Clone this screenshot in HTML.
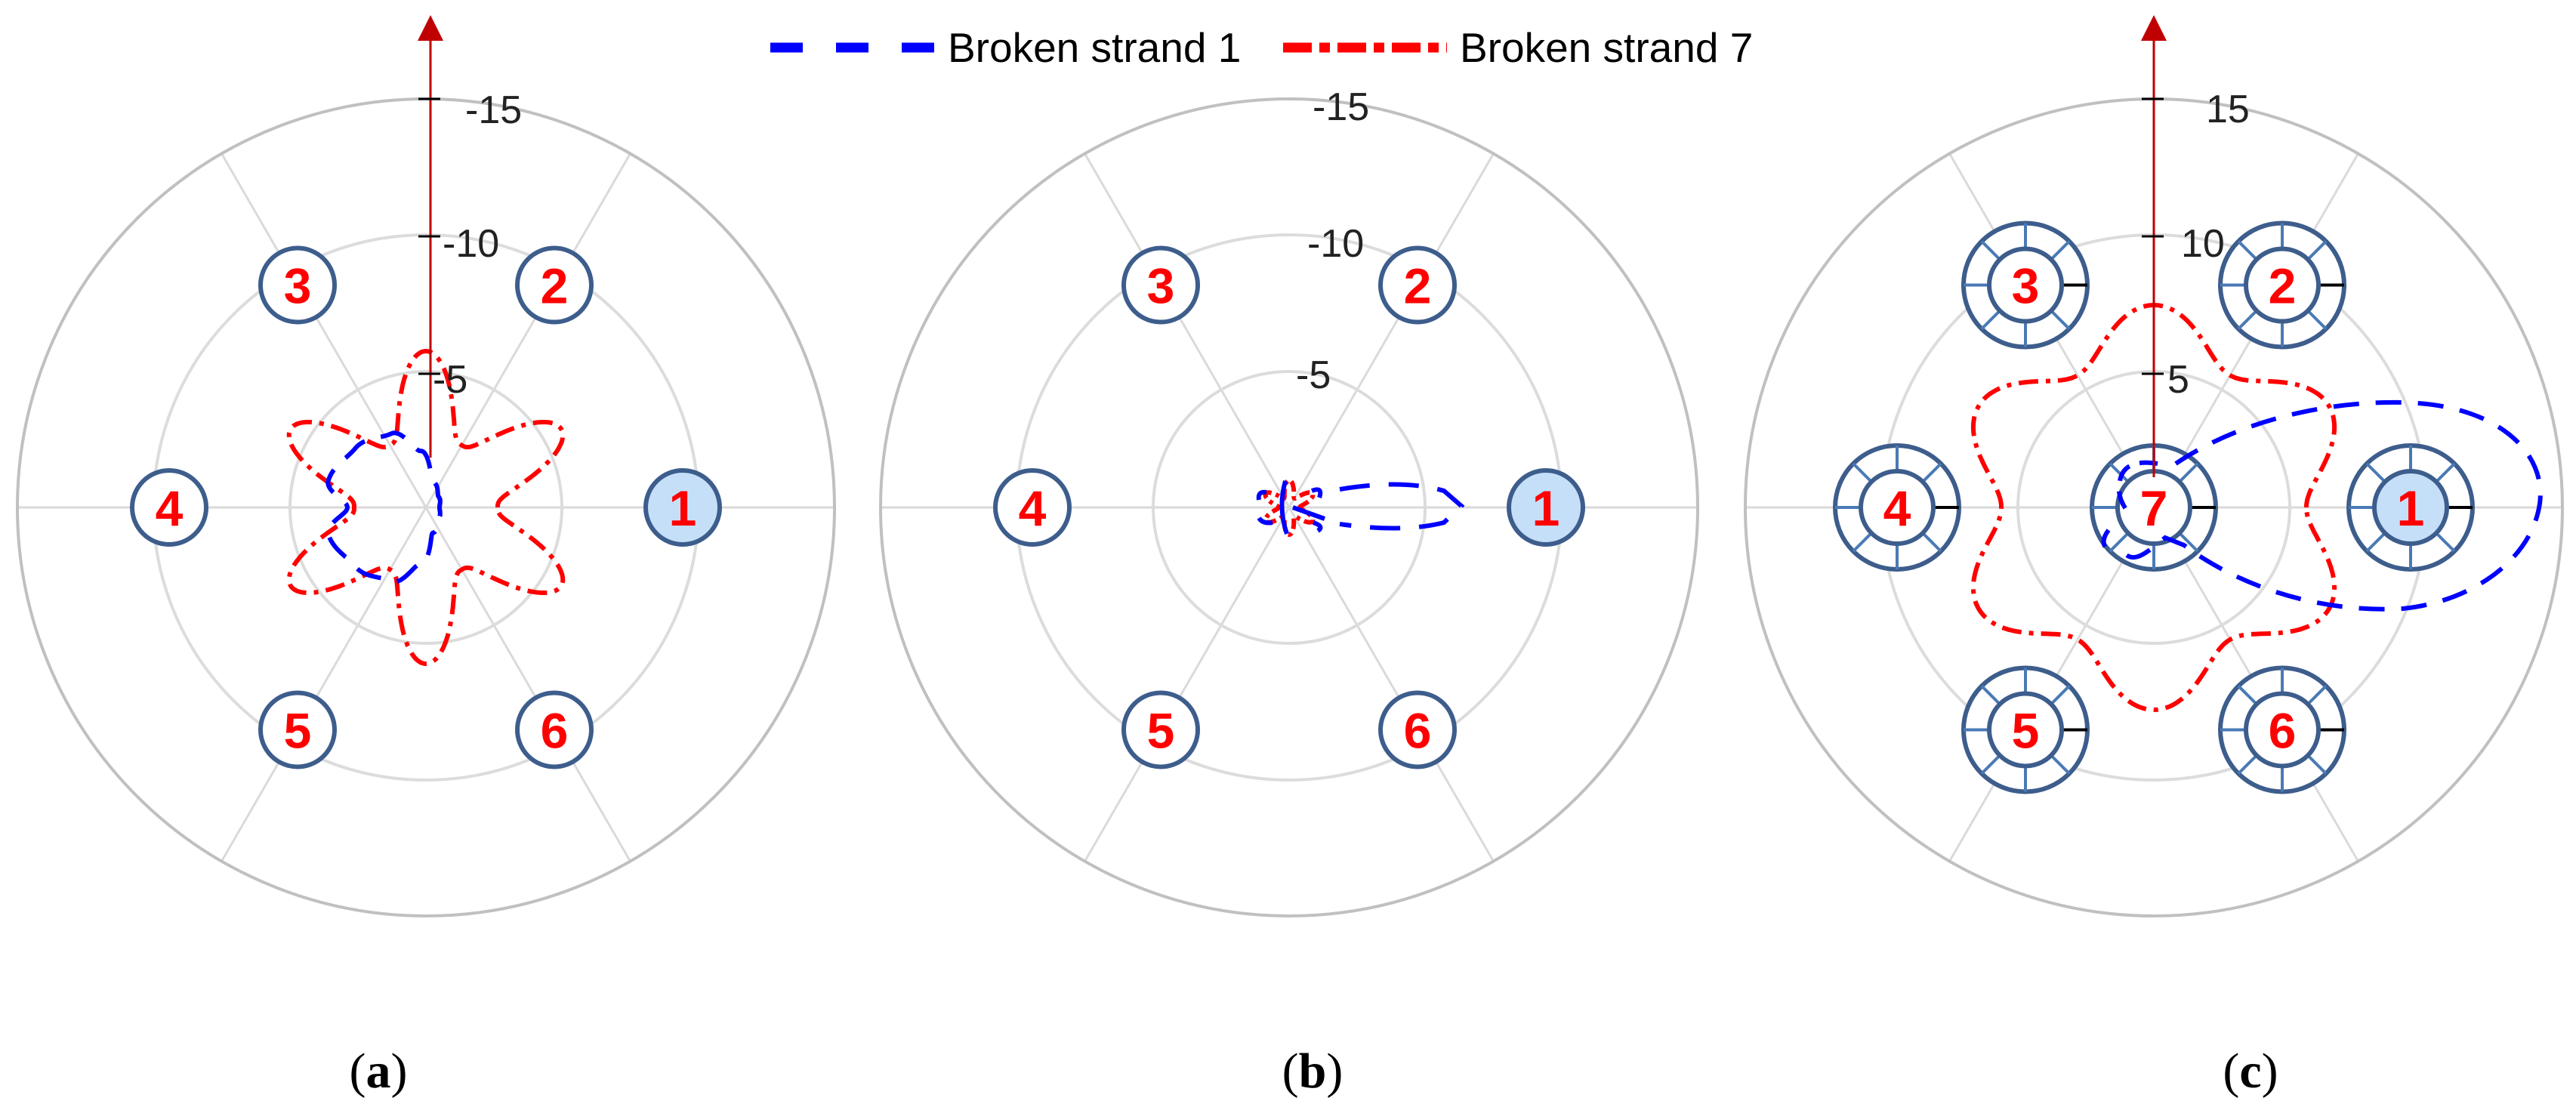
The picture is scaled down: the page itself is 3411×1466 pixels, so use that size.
<!DOCTYPE html>
<html><head><meta charset="utf-8"><style>
html,body{margin:0;padding:0;background:#fff}
svg{display:block}
text{font-family:"Liberation Sans",Arial,sans-serif}
text.serif{font-family:"Liberation Serif",serif}
</style></head><body>
<svg id="s" width="3411" height="1466" viewBox="0 0 3411 1466" xmlns="http://www.w3.org/2000/svg">
<rect width="3411" height="1466" fill="#fff"/>
<!-- legend -->
<line x1="1020" y1="63" x2="1240" y2="63" stroke="#0000ff" stroke-width="13" stroke-dasharray="43,44"/>
<text x="1255" y="82" font-size="55" fill="#000">Broken strand 1</text>
<line x1="1699" y1="63" x2="1916" y2="63" stroke="#ff0000" stroke-width="13" stroke-dasharray="38,10,14,10"/>
<text x="1933" y="82" font-size="55" fill="#000">Broken strand 7</text>
<g id="g"></g>
<text class="serif" x="501" y="1440" font-size="66" text-anchor="middle" style="font-family:'Liberation Serif',serif">(<tspan font-weight="bold">a</tspan>)</text>
<text class="serif" x="1738" y="1440" font-size="66" text-anchor="middle" style="font-family:'Liberation Serif',serif">(<tspan font-weight="bold">b</tspan>)</text>
<text class="serif" x="2980" y="1440" font-size="66" text-anchor="middle" style="font-family:'Liberation Serif',serif">(<tspan font-weight="bold">c</tspan>)</text>
</svg>
<script>
var g=document.getElementById('g');var h='';
var CY=672;
var centers=[564,1707,2852];
function polar(cx,f,n){var p='';for(var i=0;i<=n;i++){var t=i/n*2*Math.PI;var r=f(t);var x=cx+r*Math.cos(t),y=CY-r*Math.sin(t);p+=(i?'L':'M')+x.toFixed(1)+','+y.toFixed(1);}return p+'Z';}
function interp(tab,deg){for(var i=0;i<tab.length-1;i++){if(deg>=tab[i][0]&&deg<=tab[i+1][0]){var a=tab[i],b=tab[i+1];var u=(deg-a[0])/(b[0]-a[0]);u=(1-Math.cos(u*Math.PI))/2;return a[1]+(b[1]-a[1])*u;}}return tab[tab.length-1][1];}
centers.forEach(function(cx,k){
 [60,120,240,300].forEach(function(a){var t=a*Math.PI/180;h+='<line x1="'+cx+'" y1="'+CY+'" x2="'+(cx+541*Math.cos(t))+'" y2="'+(CY-541*Math.sin(t))+'" stroke="#dadada" stroke-width="3"/>';});
 h+='<line x1="'+(cx-541)+'" y1="'+CY+'" x2="'+(cx+541)+'" y2="'+CY+'" stroke="#dadada" stroke-width="3"/>';
 h+='<circle cx="'+cx+'" cy="'+CY+'" r="180" fill="none" stroke="#dcdcdc" stroke-width="4"/>';
 h+='<circle cx="'+cx+'" cy="'+CY+'" r="361" fill="none" stroke="#dcdcdc" stroke-width="4"/>';
 h+='<circle cx="'+cx+'" cy="'+CY+'" r="541" fill="none" stroke="#c0c0c0" stroke-width="4"/>';
});
var cx=centers[0];
h+='<path d="'+polar(cx,function(t){return 95+112*Math.pow((1-Math.cos(6*t))/2,1.4);},720)+'" fill="none" stroke="#ff0000" stroke-width="6" stroke-dasharray="26,10,6,10"/>';
var tabA=[[0,18],[40,22],[75,35],[95,75],[115,108],[140,122],[165,134],[180,104],[195,134],[220,122],[245,108],[265,75],[285,35],[320,22],[360,18]];
h+='<path d="'+polar(cx,function(t){return interp(tabA,t*180/Math.PI);},720)+'" fill="none" stroke="#0000ff" stroke-width="6" stroke-dasharray="34,22"/>';
cx=centers[1];
h+='<path d="'+polar(cx,function(t){return 14+22*Math.pow((1-Math.cos(6*t))/2,1.2);},360)+'" fill="none" stroke="#ff0000" stroke-width="6" stroke-dasharray="14,6,5,6"/>';
h+='<path d="M'+(cx+67)+','+(CY-24)+' Q'+(cx+150)+','+(CY-38)+' '+(cx+205)+','+(CY-22)+' L'+(cx+228)+','+(CY-2)+' L'+(cx+205)+','+(CY+20)+' Q'+(cx+150)+','+(CY+34)+' '+(cx+67)+','+(CY+22)+'" fill="none" stroke="#0000ff" stroke-width="6" stroke-dasharray="40,25"/>';
h+='<path d="M'+(cx-5)+','+(CY-35)+' Q'+(cx-15)+','+CY+' '+(cx-3)+','+(CY+35)+' M'+(cx+5)+','+CY+' L'+(cx+47)+','+(CY+15)+' M'+(cx-30)+','+(CY-20)+' Q'+(cx-42)+','+(CY-22)+' '+(cx-40)+','+(CY-10)+' M'+(cx-40)+','+(CY+14)+' Q'+(cx-35)+','+(CY+22)+' '+(cx-22)+','+(CY+20)+' M'+(cx+30)+','+(CY-22)+' Q'+(cx+45)+','+(CY-28)+' '+(cx+40)+','+(CY-13)+' M'+(cx+32)+','+(CY+20)+' Q'+(cx+47)+','+(CY+25)+' '+(cx+38)+','+(CY+31)+'" fill="none" stroke="#0000ff" stroke-width="6"/>';
var nums=[1,2,3,4,5,6];
function strands(cx,fancy){
 var list=[];for(var i=0;i<6;i++){var t=i*Math.PI/3;list.push([cx+340*Math.cos(t),CY-340*Math.sin(t),nums[i]]);}
 if(fancy)list.push([cx,CY,7]);
 list.forEach(function(s){
  var x=s[0],y=s[1];
  if(!fancy){
   h+='<circle cx="'+x+'" cy="'+y+'" r="49" fill="'+(s[2]==1?'#c5dff8':'#fff')+'" stroke="#3d5d8c" stroke-width="6"/>';
  }else{
   h+='<circle cx="'+x+'" cy="'+y+'" r="82" fill="#fff" stroke="#3d5d8c" stroke-width="6"/>';
   for(var j=0;j<8;j++){var a=j*Math.PI/4;h+='<line x1="'+(x+48*Math.cos(a))+'" y1="'+(y-48*Math.sin(a))+'" x2="'+(x+82*Math.cos(a))+'" y2="'+(y-82*Math.sin(a))+'" stroke="'+(j==0?'#000':'#4a7ab5')+'" stroke-width="4"/>';}
   h+='<circle cx="'+x+'" cy="'+y+'" r="48" fill="'+(s[2]==1?'#c5dff8':'#fff')+'" stroke="#3d5d8c" stroke-width="6"/>';
  }
  h+='<text x="'+x+'" y="'+(y+24)+'" font-size="66" font-weight="bold" fill="#ff0000" text-anchor="middle">'+s[2]+'</text>';
 });
}
strands(centers[0],false);strands(centers[1],false);strands(centers[2],true);
cx=centers[2];
h+='<path d="'+polar(cx,function(t){return 235-33*Math.cos(6*t);},720)+'" fill="none" stroke="#ff0000" stroke-width="6" stroke-dasharray="26,10,6,10"/>';
h+='<path d="M'+(cx+29)+','+(CY-58)+' C'+(cx+120)+','+(CY-120)+' '+(cx+250)+','+(CY-145)+' '+(cx+350)+','+(CY-138)+' C'+(cx+460)+','+(CY-130)+' '+(cx+520)+','+(CY-70)+' '+(cx+511)+','+(CY-5)+' C'+(cx+500)+','+(CY+70)+' '+(cx+420)+','+(CY+125)+' '+(cx+330)+','+(CY+134)+' C'+(cx+230)+','+(CY+140)+' '+(cx+120)+','+(CY+110)+' '+(cx+40)+','+(CY+50)+' L'+(cx+15)+','+(CY+40)+' C'+(cx-10)+','+(CY+60)+' '+(cx-25)+','+(CY+75)+' '+(cx-40)+','+(CY+60)+'" fill="none" stroke="#0000ff" stroke-width="6" stroke-dasharray="34,22"/>';
h+='<path d="M'+(cx+5)+','+(CY-58)+' Q'+(cx-40)+','+(CY-65)+' '+(cx-45)+','+(CY-35)+' Q'+(cx-50)+','+(CY-15)+' '+(cx-35)+','+(CY+5)+' M'+(cx-60)+','+(CY+30)+' Q'+(cx-75)+','+(CY+50)+' '+(cx-55)+','+(CY+60)+'" fill="none" stroke="#0000ff" stroke-width="6" stroke-dasharray="24,14"/>';
function axis(cx,y0){
 h+='<line x1="'+cx+'" y1="'+y0+'" x2="'+cx+'" y2="45" stroke="#c00000" stroke-width="3"/>';
 h+='<polygon points="'+(cx-17)+',54 '+(cx+17)+',54 '+cx+',20" fill="#c00000"/>';
 [131,313,495].forEach(function(y){h+='<line x1="'+(cx-16)+'" y1="'+y+'" x2="'+(cx+13)+'" y2="'+y+'" stroke="#000" stroke-width="3"/>';});
}
axis(centers[0]+6,606);axis(centers[2],632);
function lab(x,y,t){h+='<text x="'+x+'" y="'+y+'" font-size="52" fill="#222">'+t+'</text>';}
lab(616,163,'-15');lab(586,340,'-10');lab(573,520,'-5');
lab(1738,159,'-15');lab(1731,340,'-10');lab(1716,514,'-5');
lab(2921,162,'15');lab(2888,340,'10');lab(2870,520,'5');
g.innerHTML=h;
</script>
</body></html>
